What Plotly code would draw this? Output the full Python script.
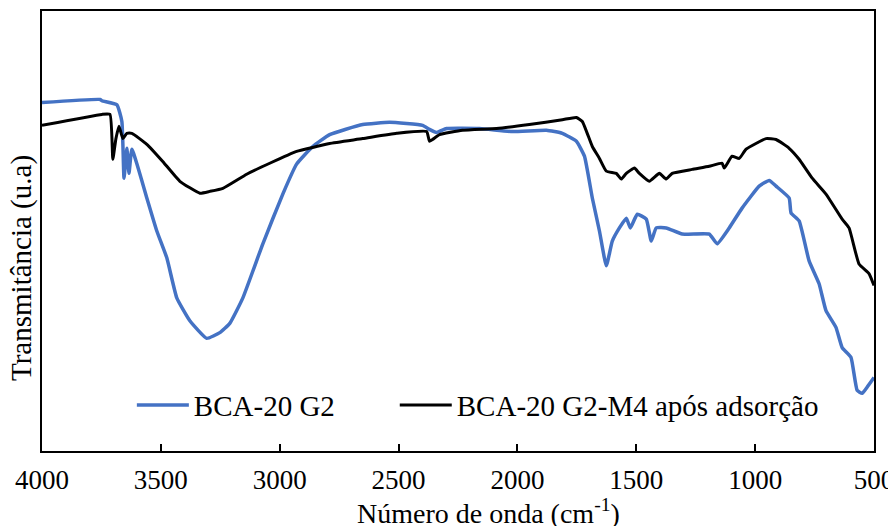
import plotly.graph_objects as go

BLUE = '#4472C4'
FONT = 'Liberation Serif'

# BCA-20 G2 (wavenumber cm-1, transmittance a.u.)
wn_g2 = [4000, 3756, 3748, 3685, 3664, 3655, 3643, 3634, 3622, 3559, 3517, 3475,
         3433, 3378, 3307, 3252, 3210, 3155, 3071, 2987, 2929, 2861, 2790, 2651,
         2538, 2399, 2370, 2340, 2298, 2160, 2021, 1878, 1811, 1752, 1718, 1685,
         1655, 1626, 1601, 1571, 1542, 1525, 1496, 1458, 1437, 1416, 1374, 1307,
         1193, 1160, 1109, 1055, 983, 941, 912, 857, 849, 815, 773, 731, 702,
         660, 634, 597, 571, 550, 529, 500]
t_g2 = [79.2, 79.9, 79.6, 78.7, 74.9, 62.0, 68.8, 63.1, 68.6, 57.5, 50.0, 43.9,
        34.8, 29.6, 25.6, 26.9, 29.0, 34.8, 47.1, 58.4, 65.2, 69.2, 71.9, 74.2,
        74.7, 74.0, 73.1, 72.4, 73.3, 73.3, 72.6, 72.9, 72.2, 70.4, 67.0, 57.5,
        50.0, 42.1, 47.7, 50.7, 52.9, 50.7, 53.8, 52.7, 47.7, 50.7, 50.7, 49.3,
        49.3, 47.1, 50.7, 55.2, 60.2, 61.5, 60.2, 57.5, 54.1, 52.3, 43.2, 38.0, 31.9,
        28.1, 23.5, 21.3, 13.8, 13.1, 14.5, 16.7]

# BCA-20 G2-M4 após adsorção
wn_m4 = [4000, 3748, 3714, 3702, 3689, 3676, 3660, 3643, 3622, 3559, 3492, 3420,
         3336, 3294, 3239, 3139, 3042, 2929, 2845, 2790, 2651, 2508, 2382, 2370,
         2357, 2328, 2231, 2088, 1950, 1811, 1752, 1727, 1685, 1655, 1626, 1584,
         1563, 1542, 1508, 1487, 1445, 1403, 1374, 1349, 1265, 1193, 1139, 1130,
         1097, 1067, 1038, 954, 912, 857, 815, 760, 702, 634, 605, 563, 521, 500]
t_m4 = [74.0, 76.5, 76.5, 66.3, 71.0, 73.8, 71.0, 72.2, 72.2, 69.7, 65.8, 61.3,
        58.6, 59.0, 59.7, 62.9, 65.4, 68.1, 69.2, 69.9, 71.0, 72.2, 72.6, 70.4,
        70.8, 71.9, 72.9, 73.3, 74.2, 75.3, 75.8, 74.9, 69.2, 66.5, 63.6, 63.1,
        61.8, 63.1, 64.3, 63.1, 61.3, 63.1, 61.8, 63.1, 64.0, 64.7, 65.4, 64.3,
        67.0, 66.5, 68.6, 71.0, 70.8, 68.8, 66.3, 62.0, 58.4, 52.7, 50.7, 42.5, 40.3, 37.6]

x_ticks = [4000, 3500, 3000, 2500, 2000, 1500, 1000, 500]

fig = go.Figure()
fig.add_trace(go.Scatter(x=wn_g2, y=t_g2, mode='lines', name='BCA-20 G2', legend='legend',
                         line=dict(color=BLUE, width=3.5, shape='spline', smoothing=0.4)))
fig.add_trace(go.Scatter(x=wn_m4, y=t_m4, mode='lines', name='BCA-20 G2-M4 após adsorção',
                         legend='legend2',
                         line=dict(color='black', width=3, shape='spline', smoothing=0.4)))

leg = dict(orientation='h', y=0.104, xanchor='left', yanchor='middle',
           font=dict(family=FONT, size=29, color='black'),
           bgcolor='rgba(0,0,0,0)', itemwidth=52)

# the page body adds an 8px offset, figure sized to end at the window edge
fig.update_layout(
    width=888, height=518,
    paper_bgcolor='white', plot_bgcolor='white',
    font=dict(family=FONT, size=27, color='black'),
    margin=dict(l=34, r=22, t=1, b=75),
    showlegend=True,
    legend=dict(leg, x=0.108),
    legend2=dict(leg, x=0.424),
)
fig.update_xaxes(range=[4000, 500], tickvals=x_ticks, ticks='inside', ticklen=7,
                 tickcolor='black', tickwidth=1.5, ticklabelstandoff=4,
                 ticklabeloverflow='allow',
                 tickfont=dict(family=FONT, size=27, color='black'),
                 showline=True, linecolor='black', linewidth=1.5, mirror=True,
                 showgrid=False, zeroline=False)
fig.update_yaxes(range=[0, 100], showticklabels=False, ticks='',
                 showline=True, linecolor='black', linewidth=1.5, mirror=True,
                 showgrid=False, zeroline=False)

fig.add_annotation(text='Número de onda (cm<sup>-1</sup>)', xref='paper', yref='paper',
                   x=0.537, y=-0.138, xanchor='center', yanchor='middle', showarrow=False,
                   font=dict(family=FONT, size=28, color='black'))
fig.add_annotation(text='Transmitância (u.a)', xref='paper', yref='paper', textangle=-90,
                   x=-0.024, y=0.416, xanchor='center', yanchor='middle', showarrow=False,
                   font=dict(family=FONT, size=29, color='black'))

fig.write_html("out.html")
